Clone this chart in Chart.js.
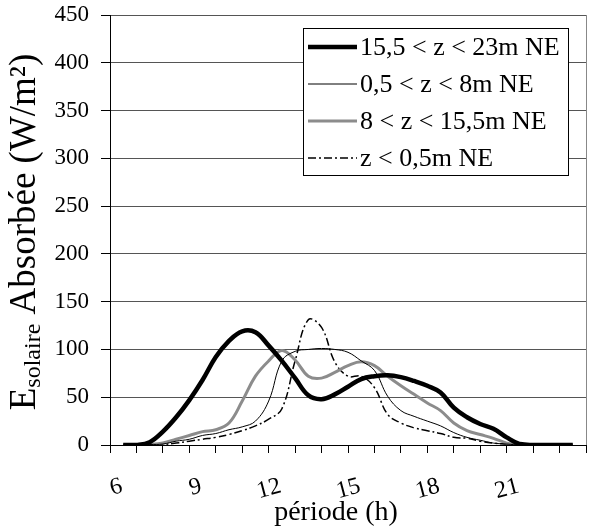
<!DOCTYPE html>
<html>
<head>
<meta charset="utf-8">
<script src="https://cdn.jsdelivr.net/npm/chart.js@4"></script>
<style>
  html, body { margin: 0; padding: 0; background: #fff; }
  #wrap { width: 590px; height: 531px; }
</style>
</head>
<body>
<div id="wrap"><canvas id="chart" width="590" height="531"></canvas></div>
<script>
// hours (h), half-hour steps
const hours = [6.5, 7, 7.5, 8, 8.5, 9, 9.5, 10, 10.5, 11, 11.5, 12, 12.5, 13, 13.5, 14, 14.5, 15,
  15.5, 16, 16.5, 17, 17.5, 18, 18.5, 19, 19.5, 20, 20.5, 21, 21.5, 22, 22.5, 23, 23.5];

// E solaire absorbée (W/m²)
const haut = [0, 0, 3, 14, 29, 47, 68, 92, 109, 119, 118, 104, 88, 70, 52, 48, 53, 61,
  69, 72, 73, 71, 67, 62, 55, 39, 29, 22, 17, 8, 1, 0, 0, 0, 0];
const bas = [0, 0, 0.5, 1, 4, 6, 10, 12, 16, 19, 25, 46, 88, 98, 100, 101, 100, 97,
  88, 78, 51, 36, 30, 25, 20, 13, 8, 5, 2, 1, 0, 0, 0, 0, 0];
const milieu = [0, 0, 0.5, 2, 6, 10, 14, 16, 23, 46, 72, 88, 99, 89, 72, 70, 76, 83,
  87, 83, 72, 62, 53, 44, 36, 23, 15, 11, 7, 2, 0, 0, 0, 0, 0];
const sol = [0, 0, 0, 0.5, 2, 4, 6, 8, 11, 15, 20, 27, 38, 88, 131, 123, 87, 72,
  72, 60, 32, 23, 18, 15, 12, 8, 7, 4, 2, 1, 0, 0, 0, 0, 0];

const seriesLabels = ["15,5 < z < 23m NE", "0,5 < z < 8m NE", "8 < z < 15,5m NE", "z < 0,5m NE"];
const yTicks = [0, 50, 100, 150, 200, 250, 300, 350, 400, 450];
const xLabels = [6, 9, 12, 15, 18, 21];

const serif = "'Liberation Serif', 'Times New Roman', serif";

function pts(values) {
  return hours.map((h, i) => ({ x: h, y: values[i] }));
}

// legend box with border, drawn inside the plot area
const boxLegend = {
  id: "boxLegend",
  afterDraw(chart) {
    const ctx = chart.ctx;
    const left = 303, top = 28, w = 265, h = 147;
    ctx.save();
    ctx.fillStyle = "#fff";
    ctx.fillRect(left, top, w, h);
    ctx.strokeStyle = "#000";
    ctx.lineWidth = 1;
    ctx.strokeRect(left + 0.5, top + 0.5, w, h);
    ctx.font = "26px " + serif;
    ctx.textBaseline = "middle";
    ctx.fillStyle = "#000";
    chart.data.datasets.forEach((ds, i) => {
      const y = 47 + i * 37;
      ctx.beginPath();
      ctx.strokeStyle = ds.borderColor;
      ctx.lineWidth = ds.borderWidth;
      ctx.setLineDash(ds.borderDash || []);
      ctx.moveTo(308, y);
      ctx.lineTo(357, y);
      ctx.stroke();
      ctx.setLineDash([]);
      ctx.fillText(ds.label, 360, y + 1);
    });
    ctx.restore();
  }
};

// axis titles (y one has a subscript), plus the right plot border
const extras = {
  id: "extras",
  afterDraw(chart) {
    const ctx = chart.ctx;
    const a = chart.chartArea;
    ctx.save();
    ctx.strokeStyle = "#888";
    ctx.lineWidth = 1;
    ctx.beginPath();
    ctx.moveTo(Math.round(a.right) + 0.5, a.top);
    ctx.lineTo(Math.round(a.right) + 0.5, a.bottom);
    ctx.stroke();

    ctx.fillStyle = "#000";
    ctx.font = "28px " + serif;
    ctx.textAlign = "center";
    ctx.textBaseline = "alphabetic";
    ctx.fillText("période (h)", 336, 520);
    ctx.textAlign = "left";

    const big = "37px " + serif, small = "24px " + serif;
    const p1 = "E", p2 = "solaire", p3 = " Absorbée (W/m²)";
    ctx.font = big;
    const w1 = ctx.measureText(p1).width, w3 = ctx.measureText(p3).width;
    ctx.font = small;
    const w2 = ctx.measureText(p2).width;
    const total = w1 + w2 + w3;
    ctx.translate(25, 232);
    ctx.rotate(-Math.PI / 2);
    ctx.textBaseline = "middle";
    let x = -total / 2;
    ctx.font = big; ctx.fillText(p1, x, 0); x += w1;
    ctx.font = small; ctx.fillText(p2, x, 9); x += w2;
    ctx.font = big; ctx.fillText(p3, x, 0);
    ctx.restore();
  }
};

new Chart(document.getElementById("chart"), {
  type: "line",
  data: {
    datasets: [
      { label: seriesLabels[0], data: pts(haut), borderColor: "#000", borderWidth: 4.5 },
      { label: seriesLabels[1], data: pts(bas), borderColor: "#000", borderWidth: 1 },
      { label: seriesLabels[2], data: pts(milieu), borderColor: "#8c8c8c", borderWidth: 3 },
      { label: seriesLabels[3], data: pts(sol), borderColor: "#000", borderWidth: 1.5, borderDash: [8, 3, 2, 3] }
    ]
  },
  options: {
    responsive: false,
    animation: false,
    events: [],
    layout: { padding: { top: 15, right: 4, left: 0, bottom: 0 } },
    elements: {
      point: { radius: 0 },
      line: { tension: 0.4, fill: false }
    },
    plugins: { legend: { display: false }, tooltip: { enabled: false } },
    scales: {
      x: {
        type: "linear",
        min: 6,
        max: 24,
        afterFit: s => { s.height = 86; s.paddingLeft = 0; s.paddingRight = 0; },
        afterBuildTicks: s => { s.ticks = []; for (let h = 6; h <= 24; h++) s.ticks.push({ value: h }); },
        border: { display: true, color: "#000", width: 1 },
        grid: { drawOnChartArea: false, tickLength: 8, color: "#000" },
        ticks: {
          autoSkip: false,
          minRotation: 15,
          maxRotation: 15,
          padding: 19,
          labelOffset: 12,
          color: "#000",
          font: { family: serif, size: 24 },
          callback: v => xLabels.includes(v) ? String(v) : ""
        },
        title: { display: false }
      },
      y: {
        min: 0,
        max: 450,
        afterFit: s => { s.width = 110; s.paddingTop = 0; s.paddingBottom = 0; },
        afterBuildTicks: s => { s.ticks = yTicks.map(v => ({ value: v })); },
        border: { display: true, color: "#000", width: 1 },
        grid: { color: "#555", lineWidth: 1, tickLength: 9, tickColor: "#000" },
        ticks: {
          padding: 12,
          color: "#000",
          font: { family: serif, size: 23 }
        }
      }
    }
  },
  plugins: [boxLegend, extras]
});
</script>
</body>
</html>
